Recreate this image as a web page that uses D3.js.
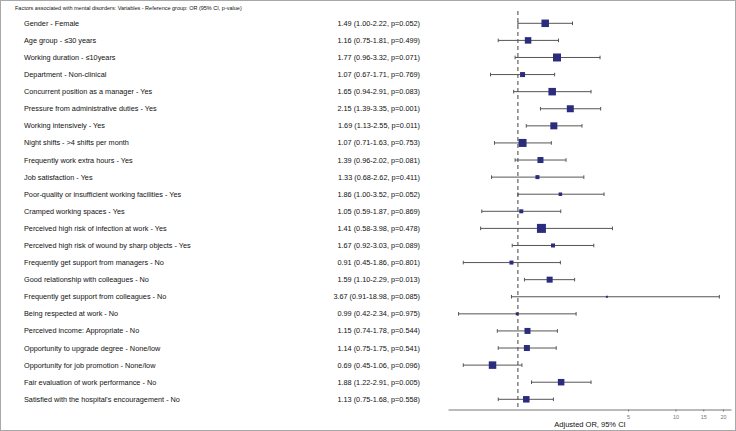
<!DOCTYPE html>
<html>
<head>
  <meta charset="utf-8">
  <title>Forest plot</title>
<script src="https://d3js.org/d3.v7.min.js"></script>
  <style>
    body { margin: 0; background: #fff; }
    text { font-family: "Liberation Sans", Arial, sans-serif; fill: #111; }
    .frame { fill: none; stroke: #a8a8a8; stroke-width: 1px; }
    .ci { stroke: #555; stroke-width: 1px; }
    .box { fill: #2c2c7e; }
    .ref { stroke: #444; stroke-width: 1px; stroke-dasharray: 4,3; }
    .axis path, .axis line { stroke: #777; }
    .axis text { fill: #777; font-size: 5.5px; }
  </style>
</head>
<body>
  <script>
    const labels = [
      "Gender - Female",
      "Age group - \u226430 years",
      "Working duration - \u226410years",
      "Department - Non-clinical",
      "Concurrent position as a manager - Yes",
      "Pressure from administrative duties - Yes",
      "Working intensively - Yes",
      "Night shifts - >4 shifts per month",
      "Frequently work extra hours - Yes",
      "Job satisfaction - Yes",
      "Poor-quality or insufficient working facilities - Yes",
      "Cramped working spaces - Yes",
      "Perceived high risk of infection at work - Yes",
      "Perceived high risk of wound by sharp objects - Yes",
      "Frequently get support from managers - No",
      "Good relationship with colleagues - No",
      "Frequently get support from colleagues - No",
      "Being respected at work - No",
      "Perceived income: Appropriate - No",
      "Opportunity to upgrade degree - None/low",
      "Opportunity for job promotion - None/low",
      "Fair evaluation of work performance - No",
      "Satisfied with the hospital's encouragement - No"
    ];
    const or = [1.49, 1.16, 1.77, 1.07, 1.65, 2.15, 1.69, 1.07, 1.39, 1.33, 1.86, 1.05, 1.41, 1.67, 0.91, 1.59, 3.67, 0.99, 1.15, 1.14, 0.69, 1.88, 1.13];
    const lower = [1.00, 0.75, 0.96, 0.67, 0.94, 1.39, 1.13, 0.71, 0.96, 0.68, 1.00, 0.59, 0.58, 0.92, 0.45, 1.10, 0.91, 0.42, 0.74, 0.75, 0.45, 1.22, 0.75];
    const upper = [2.22, 1.81, 3.32, 1.71, 2.91, 3.35, 2.55, 1.63, 2.02, 2.62, 3.52, 1.87, 3.98, 3.03, 1.86, 2.29, 18.98, 2.34, 1.78, 1.75, 1.06, 2.91, 1.68];
    const pvals = ["0.052", "0.499", "0.071", "0.769", "0.083", "0.001", "0.011", "0.753", "0.081", "0.411", "0.052", "0.869", "0.478", "0.089", "0.801", "0.013", "0.085", "0.975", "0.544", "0.541", "0.096", "0.005", "0.558"];
    // box weight (relative size of the square)
    const weights = [7.5, 6.5, 8, 5, 7.5, 7, 7, 8, 6, 4, 3.5, 4, 9, 4, 4, 6, 2, 3, 6, 6, 7.5, 6.5, 6.5];
    const ticks = [5, 10, 15, 20];
    const title = "Factors associated with mental disorders: Variables - Reference group: OR (95% CI, p-value)";

    const width = 736, height = 431;

    const rows = labels.map((l, i) => ({
      label: l, or: or[i], lo: lower[i], hi: upper[i], p: pvals[i], w: weights[i]
    }));

    const svg = d3.select("body").append("svg")
        .attr("width", width)
        .attr("height", height);

    svg.append("rect").attr("class", "frame")
        .attr("x", 0.5).attr("y", 0.5)
        .attr("width", width - 1).attr("height", height - 1);

    svg.append("text")
        .attr("x", 15).attr("y", 10)
        .style("font-size", "5.5px")
        .text(title);

    const x = d3.scaleLog().domain([0.36, 22.5]).range([448, 731]);
    const y = d3.scalePoint().domain(labels).range([23.3, 399.3]);
    const size = d3.scaleLinear().domain([0, 10]).range([0, 10]);

    // text columns
    svg.selectAll(".lab")
        .data(rows)
        .enter().append("text")
        .attr("class", "lab")
        .attr("x", 24)
        .attr("y", d => y(d.label))
        .attr("dy", "0.35em")
        .style("font-size", "7.3px")
        .text(d => d.label);

    svg.selectAll(".stat")
        .data(rows)
        .enter().append("text")
        .attr("class", "stat")
        .attr("x", 420)
        .attr("y", d => y(d.label))
        .attr("dy", "0.35em")
        .style("font-size", "7.3px")
        .style("text-anchor", "end")
        .text(d => d.or.toFixed(2) + " (" + d.lo.toFixed(2) + "-" + d.hi.toFixed(2) + ", p=" + d.p + ")");

    // axis
    const axis = svg.append("g")
        .attr("class", "axis")
        .attr("transform", "translate(0,409.5)")
        .call(d3.axisBottom(x).tickValues(ticks).tickFormat(d3.format("d")).tickSize(2).tickSizeOuter(0));
    axis.selectAll("text").attr("dy", "0.9em");

    svg.append("text")
        .attr("x", 590).attr("y", 427)
        .style("font-size", "7.5px")
        .style("text-anchor", "middle")
        .text("Adjusted OR, 95% CI");

    // reference line at OR = 1
    svg.append("line").attr("class", "ref")
        .attr("x1", x(1)).attr("x2", x(1))
        .attr("y1", 11).attr("y2", 409);

    // confidence intervals
    const g = svg.selectAll(".row")
        .data(rows)
        .enter().append("g")
        .attr("class", "row")
        .attr("transform", d => "translate(0," + y(d.label) + ")");

    g.append("line").attr("class", "ci")
        .attr("x1", d => x(d.lo)).attr("x2", d => x(d.hi));
    g.append("line").attr("class", "ci")
        .attr("x1", d => x(d.lo)).attr("x2", d => x(d.lo))
        .attr("y1", -1.8).attr("y2", 1.8);
    g.append("line").attr("class", "ci")
        .attr("x1", d => x(d.hi)).attr("x2", d => x(d.hi))
        .attr("y1", -1.8).attr("y2", 1.8);

    g.append("rect").attr("class", "box")
        .attr("x", d => x(d.or) - size(d.w) / 2)
        .attr("y", d => -size(d.w) / 2)
        .attr("width", d => size(d.w))
        .attr("height", d => size(d.w));
  </script>
</body>
</html>
